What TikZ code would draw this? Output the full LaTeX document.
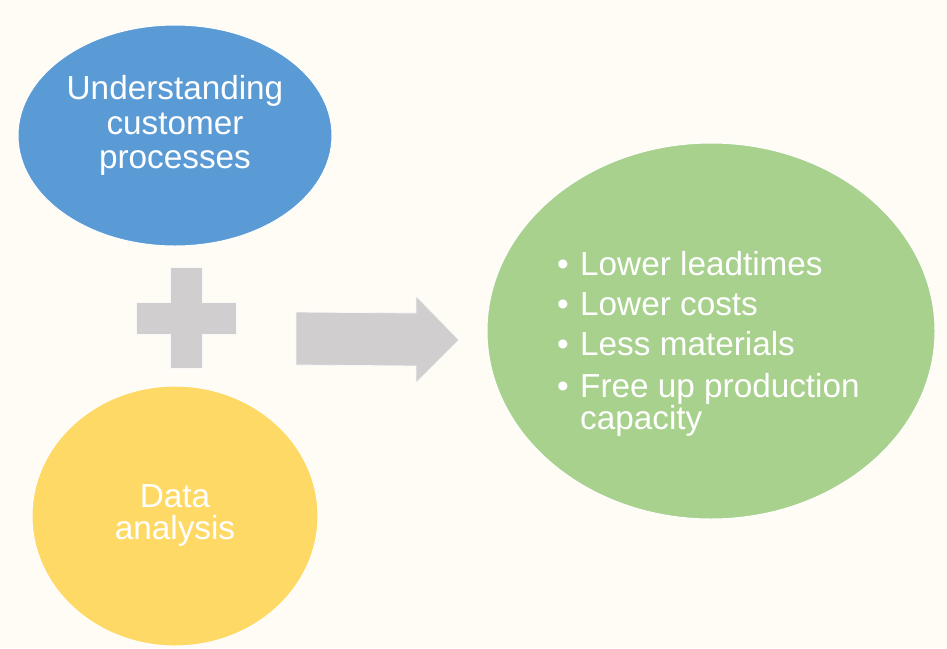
\documentclass[tikz,border=0pt]{standalone}
\usepackage{fontspec}
\setmainfont{Liberation Sans}
\definecolor{bgc}{HTML}{FEFCF4}
\definecolor{blueE}{HTML}{5B9BD5}
\definecolor{yellowE}{HTML}{FFD966}
\definecolor{greenE}{HTML}{A9D18E}
\definecolor{grayS}{HTML}{D0CECE}
\tikzset{
  blob/.style={draw=white, line width=1pt},
  sym/.style={fill=grayS, draw=white!85!grayS, line width=0.8pt},
  txt/.style={text=white, font=\fontsize{33.3}{34}\selectfont, inner sep=0pt},
}
\begin{document}
\begin{tikzpicture}[x=1pt,y=-1pt]
\fill[bgc] (0,0) rectangle (947,648);
\useasboundingbox (0,0) rectangle (947,648);
% ellipses
\filldraw[blob, fill=blueE] (175,135.5) ellipse [x radius=157, y radius=110.5];
\filldraw[blob, fill=yellowE] (175,516) ellipse [x radius=143, y radius=130];
\filldraw[blob, fill=greenE] (711,331) ellipse [x radius=224, y radius=188];
% plus
\filldraw[sym] (170,267) -- (202,267) -- (202,302) -- (236,302) -- (236,334) -- (202,334) -- (202,368) -- (170,368) -- (170,334) -- (136,334) -- (136,302) -- (170,302) -- cycle;
% arrow
\filldraw[sym] (296,312) -- (416,313) -- (416,296) -- (459,340) -- (416,383) -- (416,366) -- (296,365) -- cycle;
% texts
\node[txt, anchor=base] (u1) at (175,99) {Understanding};
\node[txt, anchor=base] (u2) at (175,134) {customer};
\node[txt, anchor=base] (u3) at (175,168) {processes};
\node[txt, anchor=base] (d1) at (175,507) {Data};
\node[txt, anchor=base] (d2) at (175,539) {analysis};
\node[txt, anchor=base] (b1) at (563,275) {•};
\node[txt, anchor=base west] (l1) at (580,275) {Lower leadtimes};
\node[txt, anchor=base] (b2) at (563,315) {•};
\node[txt, anchor=base west] (l2) at (580,315) {Lower costs};
\node[txt, anchor=base] (b3) at (563,355) {•};
\node[txt, anchor=base west] (l3) at (580,355) {Less materials};
\node[txt, anchor=base] (b4) at (563,397) {•};
\node[txt, anchor=base west] (l4) at (580,397) {Free up production};
\node[txt, anchor=base west] (l5) at (580,429) {capacity};
\end{tikzpicture}
\end{document}
